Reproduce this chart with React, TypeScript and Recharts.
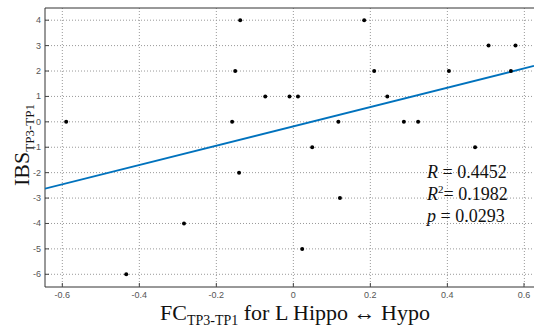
import { ScatterChart, Scatter, XAxis, YAxis, CartesianGrid, ReferenceLine } from "recharts";

const fcValues = [
  -0.59, -0.138, -0.151, -0.073, -0.159, -0.01, 0.012, 0.049, 0.184, 0.117, 0.21, 0.244,
  0.287, 0.324, 0.404, 0.472, 0.507, 0.565, 0.577, -0.141, -0.284, -0.434, 0.121, 0.023,
];
const ibsValues = [0, 4, 2, 1, 0, 1, 1, -1, 4, 0, 2, 1, 0, 0, 2, -1, 3, 2, 3, -2, -4, -6, -3, -5];

const fitX = [-0.645, 0.625];
const fitY = [-2.63, 2.2];

const xTicks = [-0.6, -0.4, -0.2, 0, 0.2, 0.4, 0.6];
const yTicks = [-6, -5, -4, -3, -2, -1, 0, 1, 2, 3, 4];
const xDomain = [-0.645, 0.625];
const yDomain = [-6.5, 4.48];

const stats = [
  { name: "R", sup: "", value: "0.4452" },
  { name: "R", sup: "2", value: "0.1982" },
  { name: "p", sup: "", value: "0.0293" },
];

const points = fcValues.map((x, i) => ({ x, y: ibsValues[i] }));
const fitLine = fitX.map((x, i) => ({ x, y: fitY[i] }));

const fmt = (v: number) => (v === 0 ? "0" : String(v));

const XTick = (props: any) => {
  const { x, y, payload } = props;
  return (
    <g>
      <line x1={x} x2={x} y1={y} y2={y - 4} stroke="#444" />
      <text x={x} y={y + 11} textAnchor="middle" fontSize={9} fill="#555" fontFamily="Liberation Sans, sans-serif">
        {fmt(payload.value)}
      </text>
    </g>
  );
};

const YTick = (props: any) => {
  const { x, y, payload } = props;
  return (
    <g>
      <line x1={x} x2={x + 4} y1={y} y2={y} stroke="#444" />
      <text x={x - 4} y={y + 3} textAnchor="end" fontSize={9} fill="#555" fontFamily="Liberation Sans, sans-serif">
        {fmt(payload.value)}
      </text>
    </g>
  );
};

const serif = "Liberation Serif, Times New Roman, serif";

export default function App() {
  return (
    <div style={{ position: "absolute", left: 0, top: 0, background: "#fff" }}>
      <ScatterChart width={534} height={330} margin={{ top: 8, right: 0, bottom: 0, left: 0 }}>
        <CartesianGrid stroke="#999" strokeDasharray="1 2" verticalValues={xTicks} horizontalValues={yTicks} />
        <XAxis
          type="number"
          dataKey="x"
          domain={xDomain}
          ticks={xTicks}
          allowDataOverflow
          height={43}
          tickSize={0}
          tickMargin={0}
          tick={<XTick />}
          stroke="#333"
        />
        <YAxis
          type="number"
          dataKey="y"
          domain={yDomain}
          ticks={yTicks}
          allowDataOverflow
          width={45}
          tickSize={0}
          tickMargin={0}
          tick={<YTick />}
          stroke="#333"
        />
        <ReferenceLine y={yDomain[1]} stroke="#333" />
        <Scatter
          data={fitLine}
          line={{ stroke: "#0072BD", strokeWidth: 1.8 }}
          shape={() => null}
          isAnimationActive={false}
        />
        <Scatter
          data={points}
          shape={(p: any) => <circle cx={p.cx} cy={p.cy} r={2} fill="#000" />}
          isAnimationActive={false}
        />
        <text transform="translate(29,145) rotate(-90)" textAnchor="middle" fontFamily={serif} fill="#111">
          <tspan fontSize={22}>IBS</tspan>
          <tspan fontSize={13} dy={5}>TP3-TP1</tspan>
        </text>
        <text x={160} y={320} fontFamily={serif} fill="#111">
          <tspan fontSize={22}>FC</tspan>
          <tspan fontSize={14} dy={5}>TP3-TP1</tspan>
          <tspan fontSize={22} dy={-5}> for L Hippo ↔ Hypo</tspan>
        </text>
        {stats.map((s, i) => (
          <text key={i} x={427} y={178 + i * 22} fontFamily={serif} fontSize={18} fill="#111">
            <tspan fontStyle="italic">{s.name}</tspan>
            {s.sup ? <tspan fontSize={11} dy={-7}>{s.sup}</tspan> : null}
            <tspan dy={s.sup ? 7 : 0}>{(s.sup ? "" : " ") + "= " + s.value}</tspan>
          </text>
        ))}
      </ScatterChart>
    </div>
  );
}
